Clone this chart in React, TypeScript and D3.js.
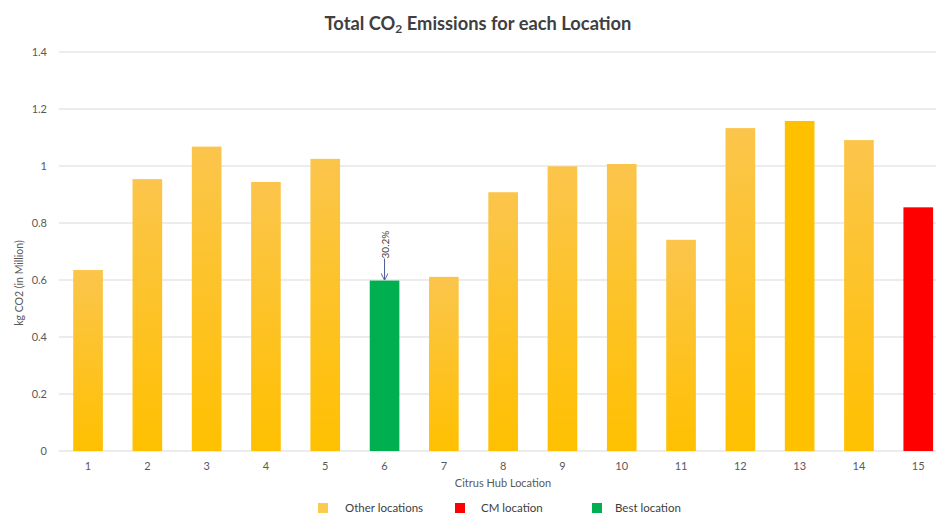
import React from "react";
import * as d3 from "d3";

const locations = ["1", "2", "3", "4", "5", "6", "7", "8", "9", "10", "11", "12", "13", "14", "15"];
const emissions = [0.635, 0.954, 1.068, 0.944, 1.025, 0.598, 0.611, 0.908, 0.999, 1.007, 0.741, 1.133, 1.158, 1.091, 0.855];
const locationType = ["other", "other", "other", "other", "other", "best", "other", "other", "other", "other", "other", "other", "other", "other", "cm"];
const yTicks = [0, 0.2, 0.4, 0.6, 0.8, 1, 1.2, 1.4];
const legendItems = [
  { key: "other", label: "Other locations" },
  { key: "cm", label: "CM location" },
  { key: "best", label: "Best location" },
];
const annotationLocation = "6";
const annotationLabel = "30.2%";

const W = 936;
const H = 515;
const FONT = "Lato, 'Open Sans', sans-serif";

export default function App() {
  const x = d3.scaleBand<string>().domain(locations).range([58.4, 947.9]).paddingInner(0.5).paddingOuter(0.25);
  const y = d3.scaleLinear().domain([0, 1.4]).range([451, 52]);

  const colorFor = (t: string, i: number) => {
    if (t === "cm") return "#FF0000";
    if (t === "best") return "#00B050";
    if (locations[i] === "13") return "#FFC000";
    return "url(#yellowGrad)";
  };

  const legendColor: Record<string, string> = { other: "#FBCB4E", cm: "#FF0000", best: "#00B050" };
  const legendX = [318, 455, 592];
  const legendTextX = [345, 481, 615];

  const ai = locations.indexOf(annotationLocation);
  const ax = (x(annotationLocation) as number) + x.bandwidth() / 2;
  const aTop = y(emissions[ai]);

  return (
    <svg width={W} height={H} style={{ position: "absolute", left: 0, top: 0, background: "#fff" }} fontFamily={FONT}>
      <defs>
        <linearGradient id="yellowGrad" x1="0" y1="0" x2="0" y2="1">
          <stop offset="0" stopColor="#FBC54C" />
          <stop offset="1" stopColor="#FFC000" />
        </linearGradient>
        <marker id="arrow" viewBox="0 0 10 10" refX="9" refY="5" markerWidth="7" markerHeight="7" orient="auto">
          <path d="M0,0 L10,5 L0,10" fill="none" stroke="#4A5A9A" strokeWidth="1.3" />
        </marker>
      </defs>
      <rect x={0} y={0} width={W} height={H} fill="#fff" />
      <text x={478} y={30} textAnchor="middle" fontSize={18.3} fontWeight="bold" fill="#404040">
        Total CO<tspan fontSize={12} dy={3}>2</tspan><tspan dy={-3}> Emissions for each Location</tspan>
      </text>
      {yTicks.map((t) => (
        <g key={t}>
          <line x1={59} x2={936} y1={y(t)} y2={y(t)} stroke="#D9D9D9" strokeWidth={1.2} />
          <text x={47} y={y(t) + 4} textAnchor="end" fontSize={11} fill="#595959">
            {d3.format("~g")(t)}
          </text>
        </g>
      ))}
      {locations.map((l, i) => (
        <rect
          key={l}
          x={x(l)}
          y={y(emissions[i])}
          width={x.bandwidth()}
          height={y(0) - y(emissions[i])}
          fill={colorFor(locationType[i], i)}
        />
      ))}
      {locations.map((l) => (
        <text key={l} x={(x(l) as number) + x.bandwidth() / 2} y={470} textAnchor="middle" fontSize={11} fill="#595959">
          {l}
        </text>
      ))}
      <text x={503} y={487} textAnchor="middle" fontSize={11} fill="#595959">
        Citrus Hub Location
      </text>
      <text transform={`translate(23,283) rotate(-90)`} textAnchor="middle" fontSize={10.5} fill="#595959">
        kg CO2 (in Million)
      </text>
      <line x1={ax} x2={ax} y1={aTop - 22} y2={aTop - 1} stroke="#4A5A9A" strokeWidth={1} markerEnd="url(#arrow)" />
      <text transform={`translate(${ax + 4},${aTop - 36}) rotate(-90)`} textAnchor="middle" fontSize={10} fill="#404040">
        {annotationLabel}
      </text>
      {legendItems.map((it, i) => (
        <g key={it.key}>
          <rect x={legendX[i]} y={503} width={10} height={10} fill={legendColor[it.key]} />
          <text x={legendTextX[i]} y={512} fontSize={11.5} fill="#404040">
            {it.label}
          </text>
        </g>
      ))}
    </svg>
  );
}
